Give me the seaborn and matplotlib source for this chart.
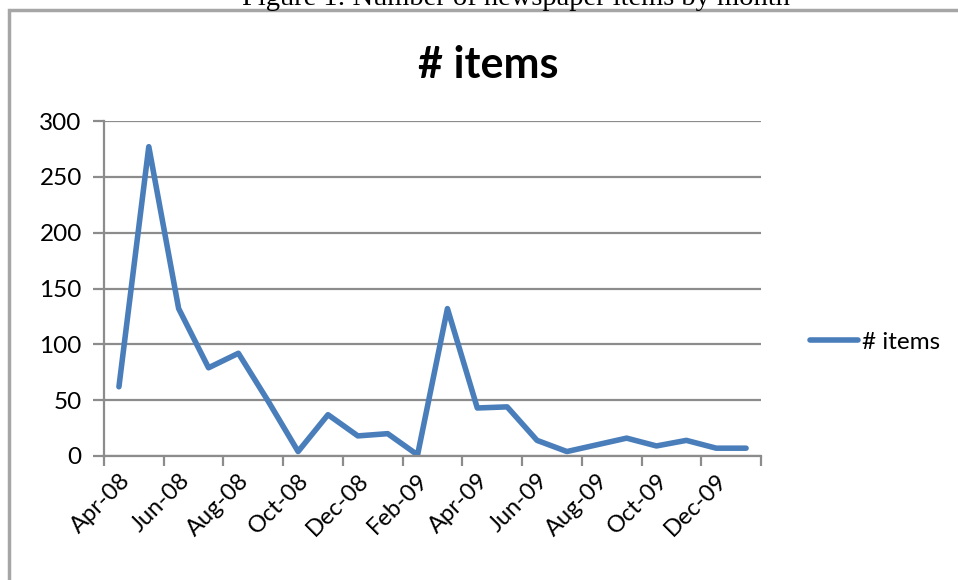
import pandas as pd
import matplotlib.pyplot as plt
import seaborn as sns
from matplotlib.patches import Rectangle

# monthly counts, Apr-08 .. Jan-10
months = ["Apr-08", "May-08", "Jun-08", "Jul-08", "Aug-08", "Sep-08",
          "Oct-08", "Nov-08", "Dec-08", "Jan-09", "Feb-09", "Mar-09",
          "Apr-09", "May-09", "Jun-09", "Jul-09", "Aug-09", "Sep-09",
          "Oct-09", "Nov-09", "Dec-09", "Jan-10"]
items = [62, 277, 132, 79, 92, 49, 4, 37, 18, 20, 1, 132,
         43, 44, 14, 4, 10, 16, 9, 14, 7, 7]
y_ticks = [0, 50, 100, 150, 200, 250, 300]

LINE_COLOR = "#4a7ebb"
GRID_COLOR = "#8c8c8c"

df = pd.DataFrame({"month": months, "pos": range(len(months)), "items": items})

sns.set_theme(style="white")
plt.rcParams["font.family"] = ["Lato", "DejaVu Sans"]
plt.rcParams["text.color"] = "black"
plt.rcParams["xtick.labelcolor"] = "black"
plt.rcParams["ytick.labelcolor"] = "black"

fig = plt.figure(figsize=(9.58, 5.80), dpi=100)
ax = fig.add_axes([104 / 958, 1 - 456 / 580, (761 - 104) / 958, (456 - 121) / 580])

sns.lineplot(data=df, x="pos", y="items", color=LINE_COLOR, linewidth=4,
             label="# items", ax=ax, solid_capstyle="round", solid_joinstyle="round")

ax.set_xlim(-0.5, len(months) - 0.5)
ax.set_ylim(0, 300)
ax.set_yticks(y_ticks)
ax.set_yticklabels([str(v) for v in y_ticks], fontsize=17.5)
ax.yaxis.grid(True, color=GRID_COLOR, linewidth=1.6)
ax.set_axisbelow(True)

# labels on every second month, tick marks on category boundaries
ax.set_xticks(df["pos"][::2])
ax.set_xticklabels(df["month"][::2], rotation=45, ha="right",
                   rotation_mode="anchor", fontsize=17)
ax.set_xticks([p - 0.5 for p in range(0, len(months) + 1, 2)], minor=True)
ax.tick_params(axis="x", which="major", length=0, pad=10)
ax.tick_params(axis="x", which="minor", length=7, width=1.6, color=GRID_COLOR,
               direction="out", bottom=True)
ax.tick_params(axis="y", length=8, width=1.6, color=GRID_COLOR, left=True, pad=8)

for side in ["top", "right"]:
    ax.spines[side].set_visible(False)
for side in ["left", "bottom"]:
    ax.spines[side].set_color(GRID_COLOR)
    ax.spines[side].set_linewidth(1.6)

ax.set_xlabel("")
ax.set_ylabel("")

fig.text(488 / 958, 1 - 65 / 580, "# items", ha="center", va="center",
         fontsize=31, fontweight="bold", color="black")

ax.legend(loc="center left", bbox_to_anchor=(800 / 958, 1 - 342 / 580),
          bbox_transform=fig.transFigure, frameon=False, fontsize=17.5,
          handlelength=2.0, handletextpad=0.15, borderaxespad=0)

# surrounding chart border and the cut-off caption above it
fig.patches.append(Rectangle((9 / 958, -0.1), 1.2, 1 - 10 / 580 + 0.1,
                             transform=fig.transFigure, fill=False,
                             edgecolor="#a6a6a6", linewidth=2.5))
fig.text(516 / 958, 1 - 5 / 580, "Figure 1: Number of newspaper items by month",
         ha="center", va="baseline", fontsize=20.5, family="Liberation Serif")

fig.savefig("out.png", dpi=100)
